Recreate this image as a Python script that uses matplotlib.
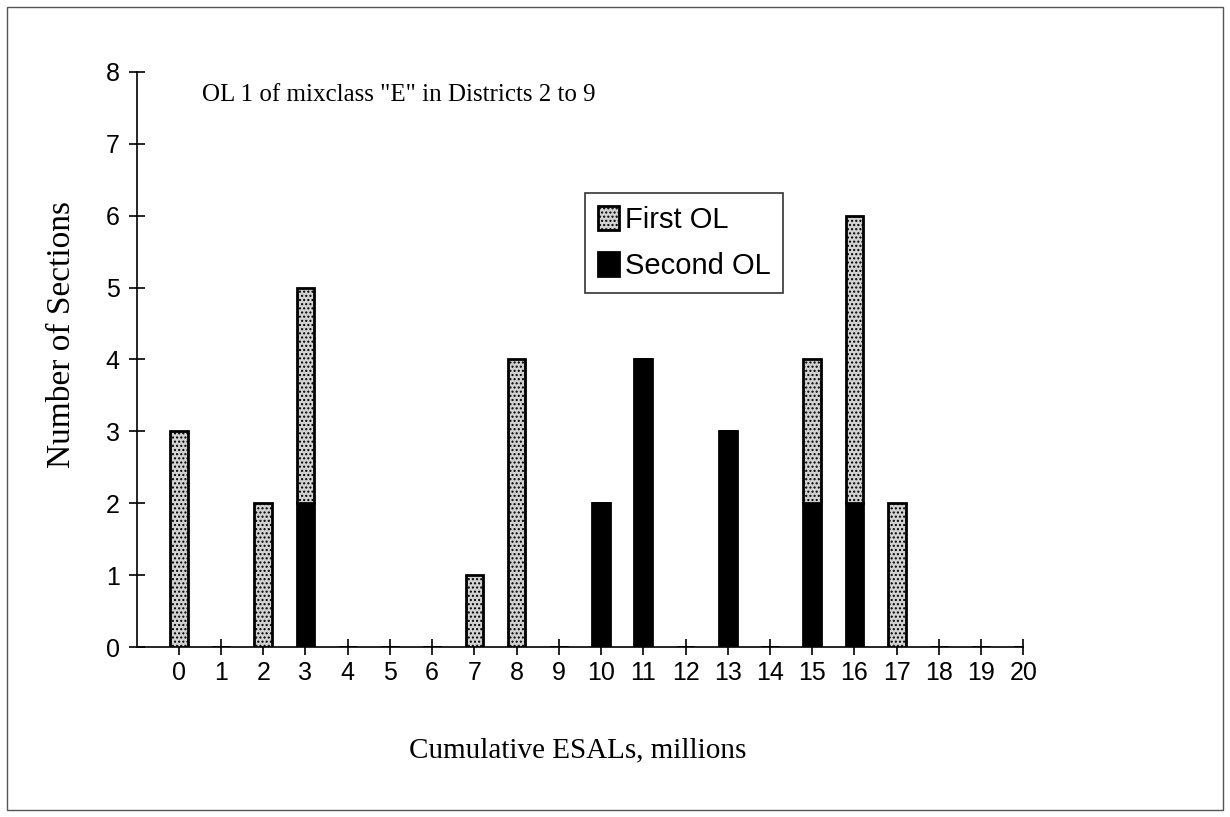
import matplotlib.pyplot as plt
from matplotlib.patches import Rectangle

# ==========================
# DATA
# ==========================

esals = [0, 1, 2, 3, 4, 5, 6, 7, 8, 9, 10, 11, 12, 13, 14, 15, 16, 17, 18, 19, 20]
second_ol = [0, 0, 0, 2, 0, 0, 0, 0, 0, 0, 2, 4, 0, 3, 0, 2, 2, 0, 0, 0, 0]
first_ol = [3, 0, 2, 3, 0, 0, 0, 1, 4, 0, 0, 0, 0, 0, 0, 2, 4, 2, 0, 0, 0]

y_ticks = [0, 1, 2, 3, 4, 5, 6, 7, 8]

title_text = 'OL 1 of mixclass "E" in Districts 2 to 9'
x_label = "Cumulative ESALs, millions"
y_label = "Number of Sections"

serif = ["Liberation Serif", "DejaVu Serif"]
sans = ["Liberation Sans", "DejaVu Sans"]

# ==========================
# FIGURE
# ==========================

fig = plt.figure(figsize=(12.3, 8.17), dpi=100)
ax = fig.add_axes([0.111, 0.208, 0.721, 0.704])

# outer frame
fig.patches.append(Rectangle((0.006, 0.009), 0.988, 0.982, transform=fig.transFigure,
                             fill=False, edgecolor="#555555", linewidth=1.0))

ax.bar(esals, second_ol, width=0.42, color="black", edgecolor="black",
       linewidth=2, label="Second OL", zorder=3)
ax.bar(esals, first_ol, width=0.42, bottom=second_ol, color="#d2d2d2",
       edgecolor="black", linewidth=2, hatch="....", label="First OL", zorder=3)

ax.set_xlim(-1, 20)
ax.set_ylim(0, 8)
ax.set_xticks(esals)
ax.set_yticks(y_ticks)

for side in ["top", "right"]:
    ax.spines[side].set_visible(False)
ax.spines["left"].set_linewidth(1.2)
ax.spines["bottom"].set_linewidth(1.2)

ax.tick_params(direction="inout", length=12, width=1.2, labelsize=18, pad=4)
ax.tick_params(axis="y", pad=6)
for lab in ax.get_xticklabels() + ax.get_yticklabels():
    lab.set_family(sans)

ax.text(0.074, 0.96, title_text, transform=ax.transAxes, fontsize=18,
        family=serif, va="center", ha="left")

fig.text(0.47, 0.082, x_label, fontsize=21, family=serif, ha="center", va="center")
fig.text(0.05, 0.59, y_label, fontsize=24, family=serif, ha="center",
         va="center", rotation=90)

handles, labels = ax.get_legend_handles_labels()
leg = ax.legend(handles[::-1], labels[::-1], loc="upper left",
                bbox_to_anchor=(0.496, 0.805), prop={"family": sans, "size": 21},
                frameon=True, fancybox=False, handlelength=0.7, handleheight=0.9,
                handletextpad=0.2, borderpad=0.45, labelspacing=0.6,
                borderaxespad=0.3)
leg.get_frame().set_edgecolor("black")
leg.get_frame().set_linewidth(1.2)

fig.savefig("out.png", dpi=100)
